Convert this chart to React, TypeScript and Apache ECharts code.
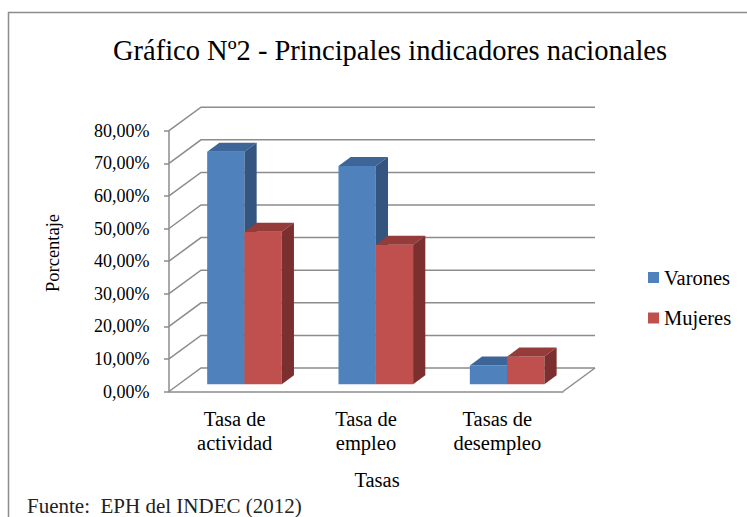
import React, { useEffect, useRef } from "react";
import * as echarts from "echarts";

const categories = ["Tasa de\nactividad", "Tasa de\nempleo", "Tasas de\ndesempleo"];
const seriesNames = ["Varones", "Mujeres"];
const varones = [71.3, 67.0, 5.8];
const mujeres = [46.8, 42.8, 8.5];
const yTicks = [0, 10, 20, 30, 40, 50, 60, 70, 80];

const FONT = "Liberation Serif";
const GRID_COLOR = "#8c8c8c";

const palette = [
  { front: "#4f81bd", top: "#3e6597", side: "#34557f" },
  { front: "#c0504d", top: "#953b39", side: "#7b2f2e" },
];

// depth geometry (oblique projection)
const WALL_DX = 32;
const WALL_DY = 23.5;
const BAR_OFF_X = 9.8;
const BAR_OFF_Y = 7.2;
const BAR_DX = 12.2;
const BAR_DY = 9;
const BAR_FRAC = 0.284;

function barRender(sIdx: number) {
  const c = palette[sIdx];
  return (params: any, api: any) => {
    const ci = api.value(0);
    const v = api.value(1);
    const base = api.coord([ci, 0]);
    const topP = api.coord([ci, v]);
    const band = api.size([1, 0])[0];
    const bw = band * BAR_FRAC;
    const left = base[0] - bw + sIdx * bw + BAR_OFF_X;
    const right = left + bw;
    const yb = base[1] - BAR_OFF_Y;
    const yt = topP[1] - BAR_OFF_Y;
    return {
      type: "group",
      children: [
        {
          type: "rect",
          shape: { x: left, y: yt, width: bw, height: yb - yt },
          style: { fill: c.front },
        },
        {
          type: "polygon",
          shape: {
            points: [
              [left, yt],
              [right, yt],
              [right + BAR_DX, yt - BAR_DY],
              [left + BAR_DX, yt - BAR_DY],
            ],
          },
          style: { fill: c.top },
        },
        {
          type: "polygon",
          shape: {
            points: [
              [right, yt],
              [right + BAR_DX, yt - BAR_DY],
              [right + BAR_DX, yb - BAR_DY],
              [right, yb],
            ],
          },
          style: { fill: c.side },
        },
      ],
    };
  };
}

function wallRender(params: any, api: any) {
  const cs = params.coordSys;
  const v = api.value(1);
  const y = api.coord([0, v])[1];
  const x0 = cs.x;
  const x1 = cs.x + cs.width;
  const ls = { stroke: GRID_COLOR, lineWidth: 1.5, fill: null };
  const children: any[] = [
    {
      type: "polyline",
      shape: {
        points: [
          [x0, y],
          [x0 + WALL_DX, y - WALL_DY],
          [x1 + WALL_DX, y - WALL_DY],
        ],
      },
      style: ls,
    },
  ];
  if (v === 0) {
    children.push({
      type: "line",
      shape: { x1: x1, y1: y, x2: x1 + WALL_DX, y2: y - WALL_DY },
      style: ls,
    });
  }
  return { type: "group", children };
}

export default function App() {
  const ref = useRef<HTMLDivElement>(null);
  useEffect(() => {
    if (!ref.current) return;
    const chart = echarts.init(ref.current, null, { renderer: "svg" });
    const option: any = {
      animation: false,
      backgroundColor: "#ffffff",
      textStyle: { fontFamily: FONT },
      title: {
        text: "Gráfico Nº2 - Principales indicadores nacionales",
        left: 385,
        top: 31,
        textAlign: "center",
        textStyle: {
          fontFamily: FONT,
          fontSize: 28.5,
          fontWeight: "normal",
          color: "#000",
        },
      },
      legend: {
        orient: "vertical",
        left: 643,
        top: 262,
        itemWidth: 11,
        itemHeight: 11,
        itemGap: 19.5,
        icon: "rect",
        data: seriesNames,
        textStyle: {
          fontFamily: FONT,
          fontSize: 20.5,
          lineHeight: 20,
          color: "#000",
        },
      },
      grid: {
        left: 169,
        right: 184,
        top: 130.7,
        bottom: 125.5,
        containLabel: false,
      },
      xAxis: {
        type: "category",
        data: categories,
        axisLine: { show: true, lineStyle: { color: GRID_COLOR, width: 1.5 } },
        axisTick: { show: false },
        axisLabel: {
          fontFamily: FONT,
          fontSize: 20.5,
          lineHeight: 24,
          color: "#000",
          margin: 15,
          interval: 0,
        },
        splitLine: { show: false },
      },
      yAxis: {
        type: "value",
        min: 0,
        max: 80,
        interval: 10,
        axisLine: { show: true, lineStyle: { color: GRID_COLOR, width: 1.5 } },
        axisTick: { show: true, length: 5, lineStyle: { color: GRID_COLOR, width: 1.5 } },
        axisLabel: {
          fontFamily: FONT,
          fontSize: 18,
          color: "#000",
          margin: 19.5,
          formatter: (v: number) => v.toFixed(2).replace(".", ",") + "%",
        },
        splitLine: { show: false },
      },
      graphic: [
        {
          type: "rect",
          shape: { x: 8.5, y: 12.5, width: 900, height: 700 },
          style: { fill: null, stroke: "#8c8c8c", lineWidth: 1.5 },
          z: -10,
          silent: true,
        },
        {
          type: "text",
          x: 53,
          y: 253,
          rotation: Math.PI / 2,
          style: {
            text: "Porcentaje",
            fontFamily: FONT,
            fontSize: 18.5,
            fill: "#000",
            textAlign: "center",
            textVerticalAlign: "middle",
          },
        },
        {
          type: "text",
          x: 377,
          y: 480,
          style: {
            text: "Tasas",
            fontFamily: FONT,
            fontSize: 20.5,
            fill: "#000",
            textAlign: "center",
            textVerticalAlign: "middle",
          },
        },
        {
          type: "text",
          x: 27,
          y: 506,
          style: {
            text: "Fuente:  EPH del INDEC (2012)",
            fontFamily: FONT,
            fontSize: 21,
            fill: "#222",
            textAlign: "left",
            textVerticalAlign: "middle",
          },
        },
      ],
      series: [
        {
          type: "custom",
          name: "walls",
          z: 1,
          silent: true,
          renderItem: wallRender,
          data: yTicks.map((v) => [0, v]),
        },
        {
          type: "custom",
          name: seriesNames[0],
          z: 2,
          itemStyle: { color: palette[0].front },
          renderItem: barRender(0),
          data: varones.map((v, i) => [i, v]),
        },
        {
          type: "custom",
          name: seriesNames[1],
          z: 3,
          itemStyle: { color: palette[1].front },
          renderItem: barRender(1),
          data: mujeres.map((v, i) => [i, v]),
        },
      ],
    };
    chart.setOption(option);
    return () => chart.dispose();
  }, []);
  return (
    <div
      ref={ref}
      style={{ position: "fixed", left: 0, top: 0, width: 747, height: 517 }}
    />
  );
}
